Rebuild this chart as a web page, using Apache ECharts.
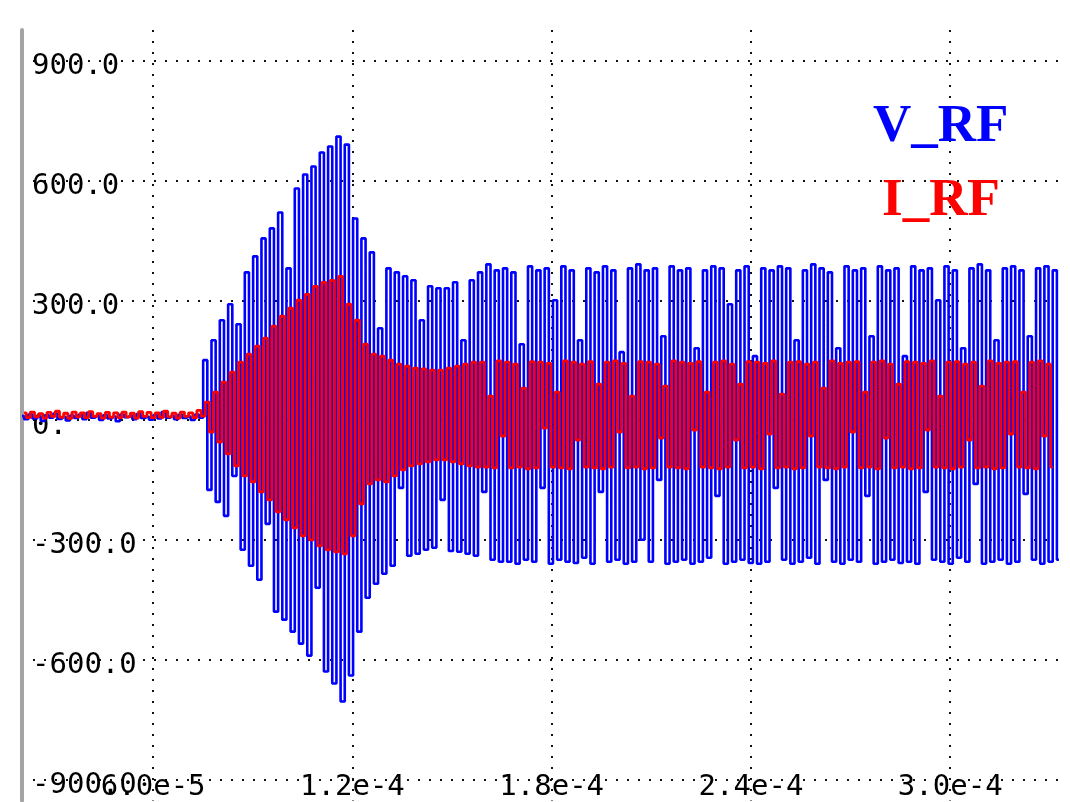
<!DOCTYPE html>
<html><head><meta charset="utf-8">
<script src="https://cdn.jsdelivr.net/npm/echarts@6/dist/echarts.min.js"></script>
<style>html,body{margin:0;padding:0;background:#fff}#c{width:1070px;height:802px}</style>
</head><body><div id="c"></div>
<script>
// axis ticks
const xTickValues = [6e-5, 1.2e-4, 1.8e-4, 2.4e-4, 3.0e-4];
const xTickLabels = ['6.0e-5', '1.2e-4', '1.8e-4', '2.4e-4', '3.0e-4'];
const yTickValues = [900, 600, 300, 0, -300, -600, -900];
const yTickLabels = ['900.0', '600.0', '300.0', '0.', '-300.0', '-600.0', '-900.0'];
const seriesNames = ['V_RF', 'I_RF'];

// time base of the sampled traces (s)
const T0 = 2.05e-5;
const DT = 1.254e-6;
const I_SHIFT = 0.627e-6;

// V_RF samples (alternating crest / trough)
const vrfBaseline = [10,2,14,4,9,-2,12,6,16,3,8,-1,11,5,13,2,18,6,10,0,12,4,9,-3,14,7,11,2,15,5,8,1,12,4,20,6,10,2,13,5,9,0,14,6];
const vrfGrowth = [
  150,-175, 200,-205, 250,-240, 290,-140, 240,-325, 370,-365, 410,-400, 455,-260,
  480,-480, 520,-500, 380,-530, 580,-560, 615,-590, 635,-420, 670,-630, 685,-660,
  710,-705, 690,-640, 505,-530, 455,-445, 420,-410, 230,-385, 380,-365, 370,-170,
  360,-340, 350,-335, 250,-325, 335,-320, 330,-200, 330,-328, 345,-330, 200,-335,
  350,-340, 370,-180, 390,-350, 375,-355
];
const vrfSteady = [
  380,-355, 370,-360, 190,-350, 385,-355, 375,-170, 380,-360, 300,-350, 385,-355,
  375,-358, 200,-345, 380,-360, 370,-180, 385,-355, 375,-350, 170,-360, 380,-355,
  390,-300, 375,-355, 380,-150, 210,-360, 385,-355, 375,-350, 380,-360, 180,-355,
  375,-345, 385,-190, 380,-360, 290,-355, 375,-350, 385,-358, 160,-360, 380,-355,
  375,-170, 385,-350, 380,-360, 200,-355, 375,-345, 390,-360, 380,-150, 370,-355,
  180,-360, 385,-350, 375,-355, 380,-190, 210,-360, 385,-355, 375,-350, 380,-358,
  160,-355, 385,-360, 375,-180, 380,-350, 300,-355, 385,-360, 375,-345, 180,-355,
  380,-160, 390,-360, 375,-355, 200,-350, 380,-360, 385,-355, 375,-185, 210,-350,
  380,-360, 385,-355, 375,-350
];

// I_RF samples (alternating crest / trough)
const irfBaseline = [18,6,20,8,16,5,19,9,22,7,17,4,20,8,18,6,21,9,16,5,19,7,18,6,20,8,17,5,21,9,19,6,18,7,22,8,17,5,20,9,18,6,24,10];
const irfGrowth = [
  45,-30, 70,-55, 95,-85, 120,-115, 145,-140, 165,-155, 185,-180, 205,-200,
  235,-230, 260,-250, 280,-270, 300,-290, 315,-300, 335,-315, 345,-325, 350,-330,
  360,-335, 290,-290, 250,-210, 190,-160, 165,-150, 160,-155, 150,-140, 140,-125,
  135,-115, 130,-110, 128,-105, 125,-100, 125,-100, 130,-105, 135,-110, 140,-115,
  145,-118
];
const irfSteady = [
  145,-118, 60,-120, 148,-40, 145,-120, 140,-118, 80,-122, 146,-120, 145,-20,
  142,-118, 70,-120, 148,-122, 145,-50, 140,-118, 146,-120, 90,-122, 145,-118,
  148,-30, 142,-120, 60,-118, 146,-122, 145,-120, 140,-45, 85,-118, 148,-120,
  145,-122, 142,-25, 146,-118, 70,-120, 145,-122, 148,-118, 140,-50, 90,-120,
  146,-118, 145,-122, 142,-35, 148,-120, 65,-118, 145,-122, 146,-120, 140,-40,
  145,-118, 80,-120, 148,-122, 142,-118, 145,-30, 146,-120, 70,-118, 145,-122,
  148,-45, 140,-120, 90,-118, 146,-122, 145,-120, 142,-25, 148,-118, 60,-120,
  145,-122, 146,-118, 140,-50, 145,-120, 85,-118, 148,-122, 142,-120, 145,-35,
  146,-118, 70,-120, 145,-122, 148,-40, 140,-118
];

const vrf = vrfBaseline.concat(vrfGrowth, vrfSteady);
const irf = irfBaseline.concat(irfGrowth, irfSteady);
const vrfData = vrf.map((v, i) => [T0 + i * DT, v]);
const irfData = irf.map((v, i) => [T0 + I_SHIFT + i * DT, v]);

const dotted = { color: '#111', width: 2, type: [2, 9] };
const tickFont = { fontFamily: 'DejaVu Sans Mono', fontSize: 29, color: '#000' };

const chart = echarts.init(document.getElementById('c'), null, { renderer: 'canvas' });
chart.setOption({
  animation: false,
  backgroundColor: '#fff',
  grid: { left: 22, top: 30, width: 1040, height: 772, containLabel: false },
  legend: [
    { data: [{ name: seriesNames[0], textStyle: { color: '#0000ff' } }], left: 868, top: 101,
      icon: 'none', itemWidth: 0, padding: 0, selectedMode: false,
      textStyle: { fontFamily: 'Liberation Serif', fontWeight: 'bold', fontSize: 53 } },
    { data: [{ name: seriesNames[1], textStyle: { color: '#ff0000' } }], left: 877, top: 175,
      icon: 'none', itemWidth: 0, padding: 0, selectedMode: false,
      textStyle: { fontFamily: 'Liberation Serif', fontWeight: 'bold', fontSize: 53 } }
  ],
  xAxis: {
    type: 'value', min: 2.05e-5, max: 3.3366e-4,
    axisLine: { show: false, onZero: false },
    axisTick: { show: false, customValues: xTickValues },
    axisLabel: {
      inside: true, margin: 13, verticalAlign: 'middle', customValues: xTickValues,
      ...tickFont,
      formatter: v => { const k = xTickValues.findIndex(t => Math.abs(t - v) < 1e-10); return k < 0 ? '' : xTickLabels[k]; }
    },
    splitLine: { show: true, lineStyle: dotted }
  },
  yAxis: {
    type: 'value', min: -953, max: 977,
    axisLine: { show: true, onZero: false, lineStyle: { color: '#a4a4a4', width: 4 } },
    axisTick: { show: false, customValues: yTickValues },
    axisLabel: {
      inside: true, margin: 10, verticalAlign: 'top', lineHeight: 12, customValues: yTickValues,
      ...tickFont,
      formatter: v => { const k = yTickValues.indexOf(Math.round(v)); return k < 0 ? '' : yTickLabels[k]; }
    },
    splitLine: { show: true, lineStyle: dotted }
  },
  series: [
    { name: seriesNames[0], type: 'line', step: 'middle', data: vrfData, showSymbol: false, symbol: 'none',
      color: '#0000ff', lineStyle: { color: '#0000ff', width: 2.6 }, z: 3 },
    { name: seriesNames[1], type: 'line', step: 'middle', data: irfData, showSymbol: false, symbol: 'none',
      color: '#ff0000', lineStyle: { color: '#ff0000', width: 2.8 }, z: 4 }
  ]
});
</script>
</body></html>
